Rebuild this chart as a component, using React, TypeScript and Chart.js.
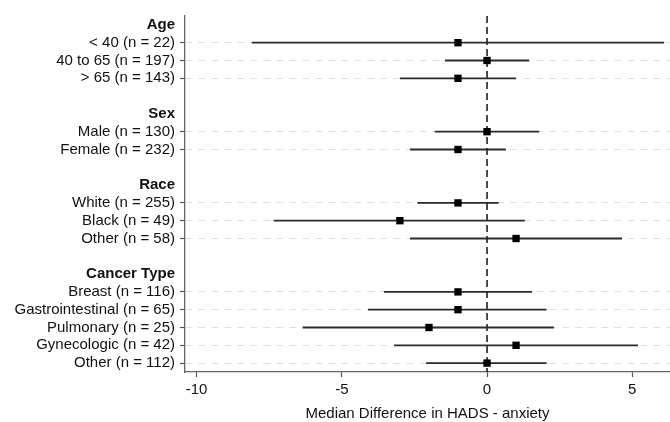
import React, { useEffect, useRef } from "react";
import { Chart, registerables } from "chart.js";

Chart.register(...registerables);

// ---- Data ----
const groups = ["Age", "Sex", "Race", "Cancer Type"];
const categories = [
  "< 40 (n = 22)",
  "40 to 65 (n = 197)",
  "> 65 (n = 143)",
  "Male (n = 130)",
  "Female (n = 232)",
  "White (n = 255)",
  "Black (n = 49)",
  "Other (n = 58)",
  "Breast (n = 116)",
  "Gastrointestinal (n = 65)",
  "Pulmonary (n = 25)",
  "Gynecologic (n = 42)",
  "Other (n = 112)",
];
const categoryGroup = [0, 0, 0, 1, 1, 2, 2, 2, 3, 3, 3, 3, 3];
const medians = [-1, 0, -1, 0, -1, -1, -3, 1, -1, -1, -2, 1, 0];
const ciLower = [-8.1, -1.45, -3.0, -1.8, -2.65, -2.4, -7.35, -2.65, -3.55, -4.1, -6.35, -3.2, -2.1];
const ciUpper = [6.1, 1.45, 1.0, 1.8, 0.65, 0.4, 1.3, 4.65, 1.55, 2.05, 2.3, 5.2, 2.05];
const xTicks = [-10, -5, 0, 5];
const xMin = -10.4;
const xMax = 6.3;
const axisTitle = "Median Difference in HADS - anxiety";

type Row = { label: string; kind: "header" | "data" | "blank"; item?: number };

function buildRows(): Row[] {
  const rows: Row[] = [];
  groups.forEach((g, gi) => {
    if (gi > 0) rows.push({ label: "", kind: "blank" });
    rows.push({ label: g, kind: "header" });
    categories.forEach((c, ci) => {
      if (categoryGroup[ci] === gi) rows.push({ label: c, kind: "data", item: ci });
    });
  });
  return rows;
}

const FONT = "'Liberation Sans', Arial, Helvetica, sans-serif";

export default function App() {
  const ref = useRef<HTMLCanvasElement | null>(null);

  useEffect(() => {
    if (!ref.current) return;
    const rows = buildRows();
    const rowIndexOfItem: number[] = [];
    rows.forEach((r, i) => {
      if (r.kind === "data" && r.item !== undefined) rowIndexOfItem[r.item] = i;
    });

    const ciData: any[] = [];
    categories.forEach((_, i) => {
      ciData.push({ x: ciLower[i], y: rowIndexOfItem[i] });
      ciData.push({ x: ciUpper[i], y: rowIndexOfItem[i] });
      ciData.push({ x: null, y: null });
    });
    const medData = categories.map((_, i) => ({ x: medians[i], y: rowIndexOfItem[i] }));
    const yMin = -0.5;
    const yMax = rows.length - 0.5;

    Chart.defaults.color = "#111";
    Chart.defaults.font.family = FONT;

    const chart = new Chart(ref.current, {
      type: "scatter",
      data: {
        datasets: [
          {
            label: "median",
            data: medData,
            pointStyle: "rect",
            pointRadius: 5.2,
            pointBorderWidth: 0,
            backgroundColor: "#000",
            borderColor: "#000",
            order: 0,
          },
          {
            label: "ci",
            data: ciData,
            showLine: true,
            spanGaps: false,
            pointRadius: 0,
            borderColor: "#2a2a2a",
            borderWidth: 1.8,
            order: 1,
          },
          {
            label: "zero",
            data: [
              { x: 0, y: yMin },
              { x: 0, y: yMax },
            ],
            showLine: true,
            pointRadius: 0,
            borderColor: "#111",
            borderWidth: 1.5,
            borderDash: [7, 4],
            order: 2,
          },
        ] as any,
      },
      options: {
        animation: false,
        responsive: false,
        events: [],
        layout: { autoPadding: false, padding: { top: 16, left: 0, right: 0, bottom: 0 } },
        plugins: { legend: { display: false }, tooltip: { enabled: false } },
        scales: {
          x: {
            type: "linear",
            min: xMin,
            max: xMax,
            afterBuildTicks: (s: any) => {
              s.ticks = xTicks.map((v) => ({ value: v }));
            },
            afterFit: (s: any) => {
              s.height = 50;
            },
            ticks: {
              font: { size: 15, family: FONT },
              color: "#111",
              padding: 4,
              callback: (v: any) => String(v),
            },
            grid: {
              drawOnChartArea: false,
              drawTicks: true,
              tickLength: 5,
              tickColor: "#555",
              tickWidth: 1.2,
            },
            border: { display: true, color: "#666", width: 1.3 },
            title: {
              display: true,
              text: axisTitle,
              font: { size: 15, family: FONT },
              color: "#111",
              padding: { top: 0, bottom: -1 },
            },
          },
          y: {
            type: "linear",
            min: yMin,
            max: yMax,
            reverse: true,
            afterBuildTicks: (s: any) => {
              s.ticks = rows.map((_, i) => ({ value: i }));
            },
            afterFit: (s: any) => {
              s.width = 185;
            },
            ticks: {
              autoSkip: false,
              padding: 5,
              color: "#111",
              callback: (v: any) => (rows[v] ? rows[v].label : ""),
              font: (ctx: any) => {
                const r = rows[ctx.tick ? ctx.tick.value : ctx.index];
                return {
                  size: 15,
                  family: FONT,
                  weight: r && r.kind === "header" ? "bold" : "normal",
                };
              },
            },
            grid: {
              drawOnChartArea: true,
              drawTicks: true,
              tickLength: 5,
              lineWidth: 1,
              tickWidth: 1.2,
              color: (ctx: any) => {
                const r = rows[ctx.tick ? ctx.tick.value : ctx.index];
                return r && r.kind === "data" ? "#e0e0e0" : "rgba(0,0,0,0)";
              },
              tickColor: (ctx: any) => {
                const r = rows[ctx.tick ? ctx.tick.value : ctx.index];
                return r && r.kind === "data" ? "#555" : "rgba(0,0,0,0)";
              },
            },
            border: { display: true, color: "#666", width: 1.3, dash: [7, 6] },
          },
        },
      } as any,
    });
    return () => chart.destroy();
  }, []);

  return (
    <div style={{ position: "fixed", left: 0, top: 0, width: 670, height: 422, background: "#fff" }}>
      <canvas ref={ref} width={670} height={422} style={{ display: "block" }} />
    </div>
  );
}
